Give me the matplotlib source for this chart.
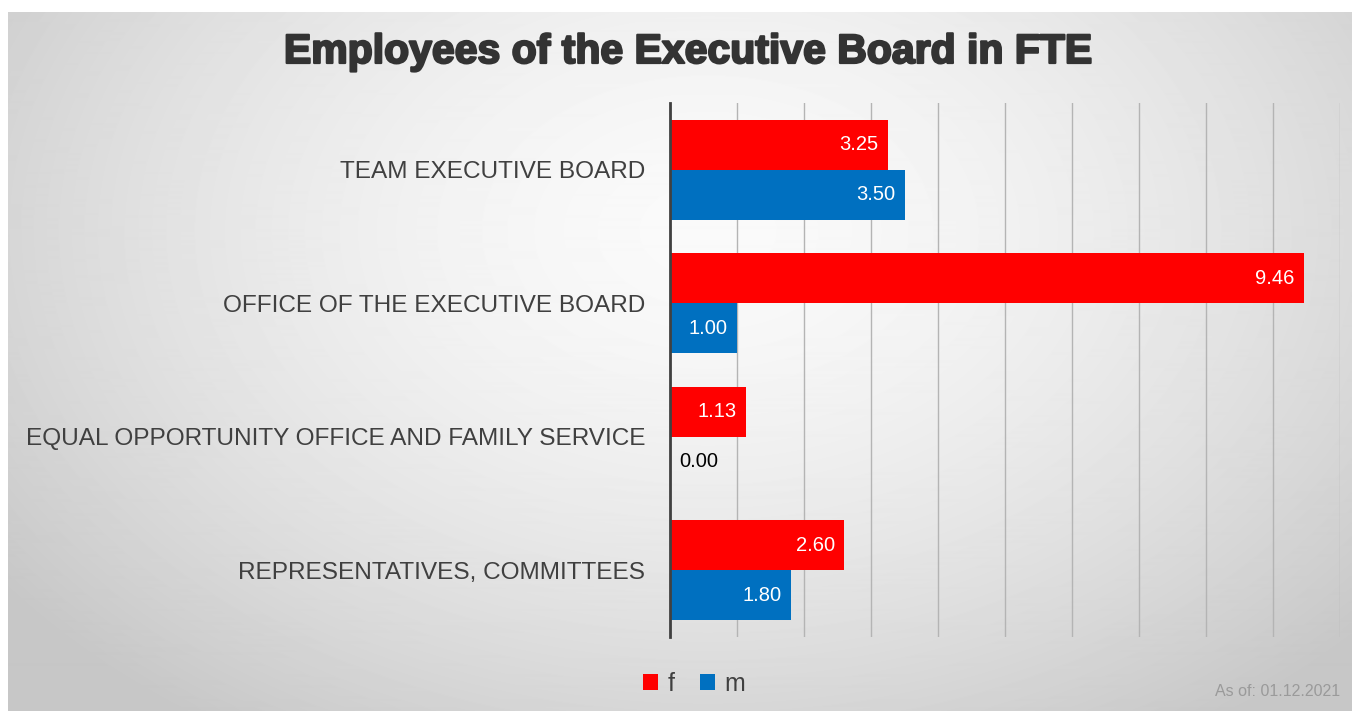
import numpy as np
import matplotlib
matplotlib.use("Agg")
import matplotlib.pyplot as plt
import matplotlib.patheffects as pe

categories = ["TEAM EXECUTIVE BOARD", "OFFICE OF THE EXECUTIVE BOARD",
              "EQUAL OPPORTUNITY OFFICE AND FAMILY SERVICE", "REPRESENTATIVES, COMMITTEES"]
f_values = [3.25, 9.46, 1.13, 2.60]
m_values = [3.50, 1.00, 0.00, 1.80]
series_names = ["f", "m"]
title = "Employees of the Executive Board in FTE"
note = "As of: 01.12.2021"

W, H = 1354, 711
fig = plt.figure(figsize=(W / 100, H / 100), dpi=100)
fig.patch.set_facecolor("white")

# background gradient panel
bg = fig.add_axes([8 / W, 0, (1352 - 8) / W, (711 - 12) / H])
yy, xx = np.mgrid[0:700, 0:1344]
d = np.sqrt(((xx - 700) / 900.0) ** 2 + ((yy - 480) / 620.0) ** 2)
val = np.clip(0.98 - 0.21 * d ** 1.6, 0.78, 1.0)
bg.imshow(val, cmap="gray", vmin=0, vmax=1, aspect="auto", origin="lower",
          extent=[0, 1, 0, 1], interpolation="bilinear")
bg.set_axis_off()

ax = fig.add_axes([670 / W, 1 - 637 / H, (1340 - 670) / W, (637 - 103) / H])
ax.patch.set_alpha(0)

red = "#FF0000"
blue = "#0070C0"
y = np.arange(len(categories))
h = 0.375
bf = ax.barh(y - h / 2, f_values, height=h, color=red, zorder=3, label=series_names[0])
bm = ax.barh(y + h / 2, m_values, height=h, color=blue, zorder=3, label=series_names[1])

ax.set_xlim(0, 10)
ax.set_ylim(len(categories) - 0.5, -0.5)
ax.set_xticks(np.arange(0, 11, 1))
ax.set_xticklabels([])
ax.tick_params(axis="x", length=0)
ax.grid(axis="x", color="#b4b4b4", linewidth=1.0, zorder=0)
ax.set_yticks(y)
ax.set_yticklabels(categories, fontsize=17.6, color="#404040", family="Liberation Sans")
ax.tick_params(axis="y", length=0, pad=18)
for s in ["top", "right", "bottom"]:
    ax.spines[s].set_visible(False)
ax.spines["left"].set_color("#404040")
ax.spines["left"].set_linewidth(2)
ax.spines["left"].set_zorder(4)

for cont, vals in ((bf, f_values), (bm, m_values)):
    for rect, v in zip(cont, vals):
        cy = rect.get_y() + rect.get_height() / 2
        if v > 0.5:
            ax.annotate(f"{v:.2f}", xy=(v, cy), xytext=(-9, 0), textcoords="offset pixels",
                        ha="right", va="center", color="white", fontsize=14.5,
                        family="Liberation Sans", zorder=5)
        else:
            ax.annotate(f"{v:.2f}", xy=(v, cy), xytext=(9, 0), textcoords="offset pixels",
                        ha="left", va="center", color="black", fontsize=14.5,
                        family="Liberation Sans", zorder=5)

t = fig.text(688 / W, 1 - 52 / H, title, ha="center", va="center", fontsize=29.5,
             fontweight="bold", color="#333333", family="Liberation Sans")
t.set_path_effects([pe.withStroke(linewidth=1.6, foreground="#333333")])

leg = fig.legend(handles=[bf, bm], labels=series_names, loc="center",
                 bbox_to_anchor=(694 / W, 1 - 684 / H), ncol=2, frameon=False,
                 prop={"family": "Liberation Sans", "size": 18},
                 handlelength=0.6, handleheight=0.6, handletextpad=0.4,
                 columnspacing=1.0, labelcolor="#404040")

fig.text(1340 / W, 1 - 692 / H, note, ha="right", va="center", fontsize=11.5,
         color="#9a9a9a", family="Liberation Sans")

fig.savefig("out.png", dpi=100)
